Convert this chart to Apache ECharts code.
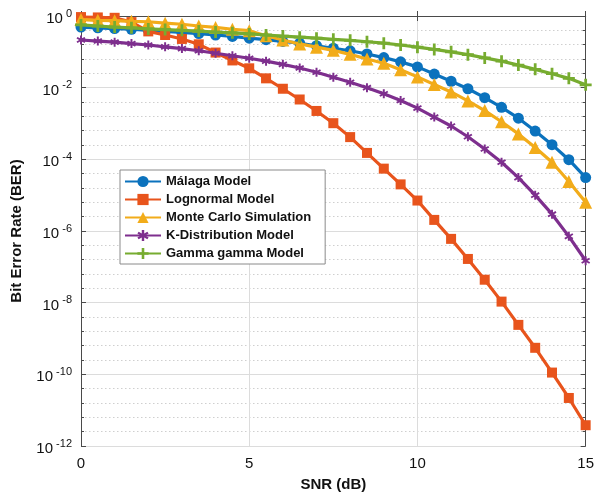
<!DOCTYPE html>
<html>
<head>
<meta charset="utf-8">
<script src="https://cdn.jsdelivr.net/npm/echarts@6/dist/echarts.min.js"></script>
<style>
html,body{margin:0;padding:0;background:#fff;overflow:hidden;}
#chart{width:597px;height:497px;}
</style>
</head>
<body>
<div id="chart"></div>
<script>
// SNR values (dB)
const snr = [0,0.5,1,1.5,2,2.5,3,3.5,4,4.5,5,5.5,6,6.5,7,7.5,8,8.5,9,9.5,10,10.5,11,11.5,12,12.5,13,13.5,14,14.5,15];
// BER values
const malaga = [0.490,0.468,0.447,0.427,0.398,0.372,0.347,0.324,0.295,0.269,0.240,0.219,0.195,0.174,0.148,0.126,0.107,0.0871,0.0692,0.0525,0.0380,0.0240,0.0151,0.00933,0.00525,0.00282,0.00141,6.17e-4,2.57e-4,9.77e-5,3.09e-5];
const lognormal = [0.933,0.912,0.891,0.676,0.372,0.295,0.229,0.162,0.0955,0.0575,0.0347,0.0182,0.00933,0.00468,0.00224,0.00102,4.17e-4,1.51e-4,5.50e-5,2.0e-5,7.08e-6,2.04e-6,6.03e-7,1.66e-7,4.37e-8,1.07e-8,2.40e-9,5.50e-10,1.12e-10,2.19e-11,3.80e-12];
const monteCarlo = [0.794,0.759,0.741,0.708,0.692,0.631,0.589,0.525,0.479,0.427,0.389,0.282,0.214,0.166,0.135,0.110,0.0851,0.0631,0.0479,0.0316,0.0200,0.0123,0.00759,0.00427,0.00229,0.00112,5.13e-4,2.14e-4,8.32e-5,2.40e-5,6.31e-6];
const kDist = [0.214,0.200,0.186,0.170,0.155,0.138,0.123,0.107,0.0912,0.0776,0.0661,0.0550,0.0447,0.0355,0.0269,0.0195,0.0141,0.0100,0.00676,0.00437,0.00269,0.00151,8.51e-4,4.27e-4,1.95e-4,8.32e-5,3.09e-5,1.0e-5,2.95e-6,7.08e-7,1.48e-7];
const gammaGamma = [0.562,0.525,0.490,0.468,0.437,0.417,0.398,0.380,0.355,0.339,0.316,0.295,0.275,0.257,0.240,0.224,0.209,0.191,0.174,0.155,0.135,0.117,0.100,0.0832,0.0676,0.0550,0.0427,0.0324,0.0245,0.0182,0.0120];
const seriesNames = ['Málaga Model','Lognormal Model','Monte Carlo Simulation','K-Distribution Model','Gamma gamma Model'];
const xTicks = [0,5,10,15];
const yExponents = [0,-2,-4,-6,-8,-10,-12];

const colors = ['#0B72BD','#E8541C','#F2AC1A','#7E2F8E','#77AC30'];
const plusPath = 'path://M4,0h2.4v4h4v2.4h-4v4h-2.4v-4h-4v-2.4h4z';
const starPath = 'path://M4,0h2v3.2l2.6-1.6l1,1.7l-2.7,1.7l2.7,1.7l-1,1.7l-2.6-1.6v3.2h-2v-3.2l-2.6,1.6l-1-1.7l2.7-1.7l-2.7-1.7l1-1.7l2.6,1.6z';
const symbols = ['circle','rect',"triangle",starPath,plusPath];
const symbolSizes = [11,10,13,9,12];
const allData = [malaga, lognormal, monteCarlo, kDist, gammaGamma];

function toPairs(arr){ return arr.map((v,i)=>[snr[i], Math.log10(v)]); }

const font = 'Liberation Sans, Arial, Helvetica, sans-serif';
const axisColor = '#4a4a4a';

const series = allData.map((arr,i)=>({
  name: seriesNames[i],
  type: 'line',
  xAxisIndex: 0, yAxisIndex: 0,
  data: toPairs(arr),
  symbol: symbols[i],
  symbolSize: symbolSizes[i],
  showSymbol: true,
  lineStyle: {width: 3.2, color: colors[i]},
  itemStyle: {color: colors[i], borderWidth: 0},
  emphasis: {disabled: true},
  animation: false,
  z: 3 + i
}));

const chart = echarts.init(document.getElementById('chart'), null, {renderer:'canvas'});
chart.setOption({
  animation: false,
  color: colors,
  grid: {left: 81, right: 8, top: 16, bottom: 47, containLabel: false},
  legend: {
    orient: 'vertical',
    left: 120, top: 170,
    itemWidth: 36, itemHeight: 14, itemGap: 5,
    padding: [5, 14, 4, 4],
    backgroundColor: '#fff',
    borderColor: '#8a8a8a', borderWidth: 1, borderRadius: 0,
    textStyle: {fontFamily: font, fontSize: 13, fontWeight: 'bold', color: '#111'},
    data: seriesNames
  },
  xAxis: [{
    type: 'value', min: 0, max: 15, interval: 5,
    name: 'SNR (dB)', nameLocation: 'middle', nameGap: 31,
    nameTextStyle: {fontFamily: font, fontSize: 15, fontWeight: 'bold', color: '#111'},
    axisLine: {show: true, lineStyle: {color: axisColor, width: 1}},
    axisTick: {show: true, inside: true, length: 5, lineStyle: {color: axisColor}},
    axisLabel: {fontFamily: font, fontSize: 15, color: '#111', margin: 10,
      formatter: v => xTicks.indexOf(v) >= 0 ? String(v) : ''},
    splitLine: {show: true, lineStyle: {color: '#dcdcdc', width: 1}}
  },{
    type: 'value', min: 0, max: 15, interval: 5, position: 'top',
    axisLine: {show: true, onZero: false, lineStyle: {color: axisColor, width: 1}},
    axisTick: {show: true, inside: true, length: 5, lineStyle: {color: axisColor}},
    axisLabel: {show: false}, splitLine: {show: false}
  }],
  yAxis: [{
    type: 'value', min: -12, max: 0, interval: 2,
    name: 'Bit Error Rate (BER)', nameLocation: 'middle', nameGap: 57,
    nameTextStyle: {fontFamily: font, fontSize: 15, fontWeight: 'bold', color: '#111'},
    axisLine: {show: true, lineStyle: {color: axisColor, width: 1}},
    axisTick: {show: true, inside: true, length: 5, lineStyle: {color: axisColor}},
    minorTick: {show: true, splitNumber: 5, length: 3, lineStyle: {color: axisColor}},
    axisLabel: {
      margin: 9,
      formatter: v => yExponents.indexOf(v) >= 0 ? '{b|10}{s| ' + v + '}' : '',
      rich: {
        b: {fontFamily: font, fontSize: 15, color: '#111', padding: [6,0,0,0]},
        s: {fontFamily: font, fontSize: 11, color: '#111', padding: [0,0,5,0]}
      }
    },
    splitLine: {show: true, lineStyle: {color: '#dcdcdc', width: 1}},
    minorSplitLine: {show: true, lineStyle: {color: '#cfcfcf', width: 1, type: [1.5,2.5]}}
  },{
    type: 'value', min: -12, max: 0, interval: 2, position: 'right',
    axisLine: {show: true, onZero: false, lineStyle: {color: axisColor, width: 1}},
    axisTick: {show: true, inside: true, length: 5, lineStyle: {color: axisColor}},
    minorTick: {show: true, splitNumber: 5, length: 3, lineStyle: {color: axisColor}},
    axisLabel: {show: false}, splitLine: {show: false}
  }],
  series: series
});
</script>
</body>
</html>
